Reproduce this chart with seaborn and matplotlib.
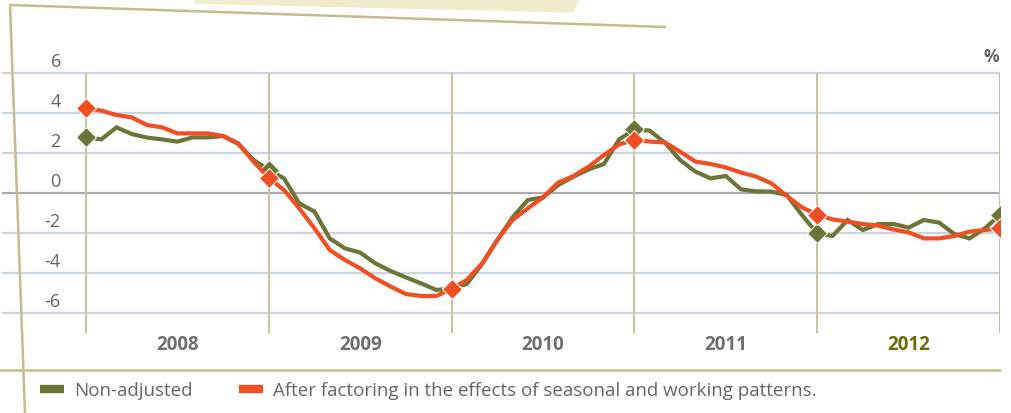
import numpy as np
import pandas as pd
import seaborn as sns
import matplotlib.pyplot as plt
from matplotlib.lines import Line2D
from matplotlib.patches import Polygon

sns.set_theme(style='white')
plt.rcParams['font.family'] = ['Open Sans', 'DejaVu Sans']

# monthly values, Jan 2008 .. Jan 2013 (61 points)
non_adjusted = [
    2.8, 2.68, 3.28, 2.95, 2.77, 2.68, 2.57, 2.78, 2.78, 2.85, 2.45, 1.65,
    1.15, 0.73, -0.52, -0.93, -2.27, -2.77, -2.98, -3.52, -3.9, -4.22, -4.52, -4.85,
    -4.77, -4.55, -3.55, -2.35, -1.22, -0.35, -0.22, 0.4, 0.82, 1.18, 1.45, 2.68,
    3.18, 3.12, 2.52, 1.65, 1.07, 0.73, 0.85, 0.18, 0.08, 0.07, -0.1, -1.1,
    -2.02, -2.15, -1.35, -1.85, -1.55, -1.55, -1.73, -1.35, -1.48, -2.05, -2.27, -1.77,
    -1.1,
]
adjusted = [
    4.23, 4.12, 3.9, 3.78, 3.4, 3.28, 2.98, 2.98, 2.98, 2.85, 2.48, 1.57,
    0.75, 0.15, -0.77, -1.77, -2.85, -3.35, -3.77, -4.27, -4.68, -5.05, -5.15, -5.15,
    -4.78, -4.35, -3.52, -2.35, -1.35, -0.77, -0.22, 0.52, 0.85, 1.32, 1.9, 2.43,
    2.66, 2.57, 2.53, 2.07, 1.57, 1.45, 1.28, 1.02, 0.82, 0.48, -0.15, -0.72,
    -1.08, -1.32, -1.43, -1.55, -1.63, -1.82, -1.97, -2.27, -2.27, -2.15, -1.93, -1.85,
    -1.77,
]
years = ['2008', '2009', '2010', '2011', '2012']
y_ticks = [6, 4, 2, 0, -2, -4, -6]
series_names = ['Non-adjusted', 'After factoring in the effects of seasonal and working patterns.']

green = '#6b7535'
red = '#f04e23'
grey_txt = '#666666'
frame_col = '#c4bd8e'

n = len(non_adjusted)
df = pd.DataFrame({
    'month': list(range(n)) * 2,
    'value': non_adjusted + adjusted,
    'series': [series_names[0]] * n + [series_names[1]] * n,
})

W, H = 1012, 413
fig = plt.figure(figsize=(W / 100, H / 100), dpi=100)
# axes spans pixel x 2..1000, y 63..333
ax = fig.add_axes([2 / W, (H - 333) / H, 998 / W, 270 / H])
ax.set_xlim((2 - 86) / (914 / 60), 60)
ax.set_ylim(-7, 6.5)
ax.axis('off')

# grid
for v in y_ticks:
    ax.axhline(v, color='#aeaab5' if v == 0 else '#cbd5dd', lw=1.6, zorder=1)
    ax.text(-1.65, v + 0.12, str(v), ha='right', va='bottom', fontsize=13, color=grey_txt)
ax.vlines(range(0, n, 12), -7, 6, color='#c8c39a', lw=1.4, zorder=1)

sns.lineplot(data=df, x='month', y='value', hue='series', palette=[green, red],
             lw=3, legend=False, ax=ax, zorder=3)
for line in ax.get_lines()[-2:]:
    line.set_marker('D')
    line.set_markersize(10.5)
    line.set_markevery(list(range(0, n, 12)))
    line.set_solid_joinstyle('miter')

for i, yr in enumerate(years):
    last = i == len(years) - 1
    ax.text(i * 12 + 6, -7.6, yr, ha='center', va='center', fontsize=13.5,
            fontweight='bold', color='#6e6c0a' if last else '#6f6f6f', clip_on=False)
ax.text(59.4, 6.8, '%', ha='center', va='center', fontsize=12.5, fontweight='bold',
        color=grey_txt, clip_on=False)

# decorative frame
def px(x, y):
    return x / W, 1 - y / H

fig.patches.append(Polygon([px(195, 0), px(578, 0), px(573, 12), px(195, 3)],
                           closed=True, transform=fig.transFigure, color='#efedcc', zorder=0))
for (x0, y0), (x1, y1) in [((10, 5), (665, 27)), ((10, 5), (25, 413)), ((0, 370), (1000, 370))]:
    a, b = px(x0, y0)
    c, d = px(x1, y1)
    fig.add_artist(Line2D([a, c], [b, d], transform=fig.transFigure, color=frame_col, lw=1.8))

handles = [Line2D([], [], color=green, lw=6, solid_capstyle='butt'),
           Line2D([], [], color=red, lw=6, solid_capstyle='butt')]
fig.legend(handles, series_names, loc='center left', bbox_to_anchor=(23 / W, 1 - 391 / H),
           ncol=2, frameon=False, fontsize=13.5, handlelength=1.3, handletextpad=0.5,
           columnspacing=2.5, labelcolor=grey_txt)

fig.savefig('out.png', dpi=100)
